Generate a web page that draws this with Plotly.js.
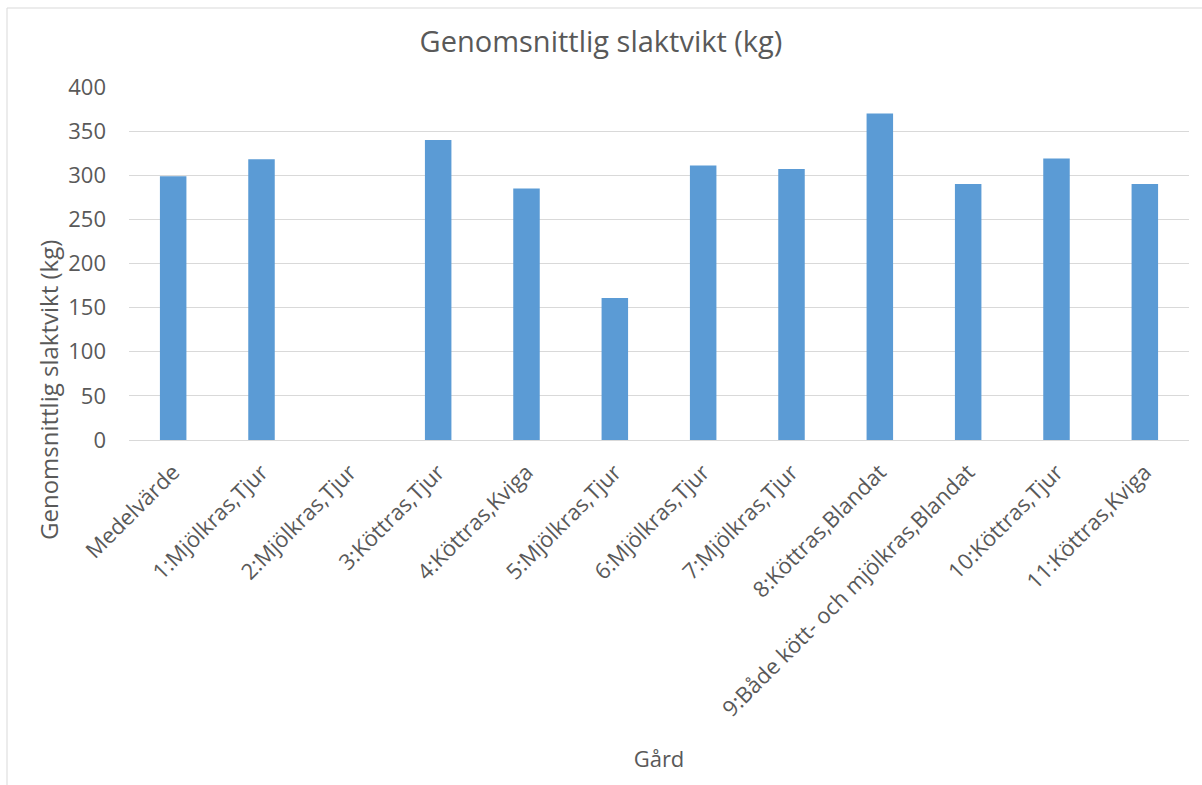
<!DOCTYPE html>
<html>
<head>
<meta charset="utf-8">
<script src="https://cdn.plot.ly/plotly-3.0.1.min.js"></script>
<style>html,body{margin:0;padding:0;background:#fff;}#chart{width:1202px;height:785px;}</style>
</head>
<body>
<div id="chart"></div>
<script>
const categories = [
  "Medelvärde",
  "1:Mjölkras,Tjur",
  "2:Mjölkras,Tjur",
  "3:Köttras,Tjur",
  "4:Köttras,Kviga",
  "5:Mjölkras,Tjur",
  "6:Mjölkras,Tjur",
  "7:Mjölkras,Tjur",
  "8:Köttras,Blandat",
  "9:Både kött- och mjölkras,Blandat",
  "10:Köttras,Tjur",
  "11:Köttras,Kviga"
];
const slaktvikt = [299, 318, null, 340, 285, 161, 311, 307, 370, 290, 319, 290];
const yTicks = [0, 50, 100, 150, 200, 250, 300, 350, 400];

const chartTitle = "Genomsnittlig slaktvikt (kg)";
const yTitle = "Genomsnittlig slaktvikt (kg)";
const xTitle = "Gård";

const gray = "#595959";
const fontFam = "'Open Sans', 'Liberation Sans', sans-serif";

const trace = {
  type: "bar",
  x: categories,
  y: slaktvikt,
  marker: { color: "#5b9bd5" },
  hoverinfo: "x+y"
};

const layout = {
  width: 1202,
  height: 785,
  margin: { l: 129, r: 13, t: 87, b: 345 },
  paper_bgcolor: "#ffffff",
  plot_bgcolor: "#ffffff",
  font: { family: fontFam, color: gray },
  showlegend: false,
  bargap: 0.7,
  title: {
    text: chartTitle,
    font: { size: 29, color: gray, family: fontFam },
    x: 0.5, xanchor: "center",
    y: 1 - 42 / 785, yanchor: "middle",
    xref: "container", yref: "container"
  },
  xaxis: {
    type: "category",
    tickangle: -45,
    tickfont: { size: 22, color: gray },
    showgrid: false,
    showline: false,
    zeroline: false,
    ticks: "",
    ticklabelstandoff: 14,
    automargin: false,
    title: { text: xTitle, font: { size: 22, color: gray }, standoff: 30 }
  },
  yaxis: {
    range: [0, 400],
    tickvals: yTicks,
    tickfont: { size: 22, color: gray },
    showgrid: true,
    gridcolor: "#d9d9d9",
    gridwidth: 1,
    zeroline: true,
    zerolinecolor: "#d9d9d9",
    zerolinewidth: 1,
    showline: false,
    ticks: "",
    ticklabelstandoff: 22,
    automargin: false
  },
  annotations: [
    {
      text: yTitle,
      xref: "paper", yref: "paper",
      x: (48 - 129) / 1060, y: (440 - 390) / 353,
      xanchor: "center", yanchor: "middle",
      textangle: -90,
      showarrow: false,
      font: { size: 24, color: gray, family: fontFam }
    }
  ],
  shapes: [
    {
      type: "rect",
      xref: "paper", yref: "paper",
      x0: (7 - 129) / 1060, x1: (1215 - 129) / 1060,
      y0: (440 - 800) / 353, y1: (440 - 8) / 353,
      line: { color: "#d9d9d9", width: 1 },
      fillcolor: "rgba(0,0,0,0)",
      layer: "below"
    }
  ]
};

Plotly.newPlot("chart", [trace], layout, { displayModeBar: false, staticPlot: true });
</script>
</body>
</html>
